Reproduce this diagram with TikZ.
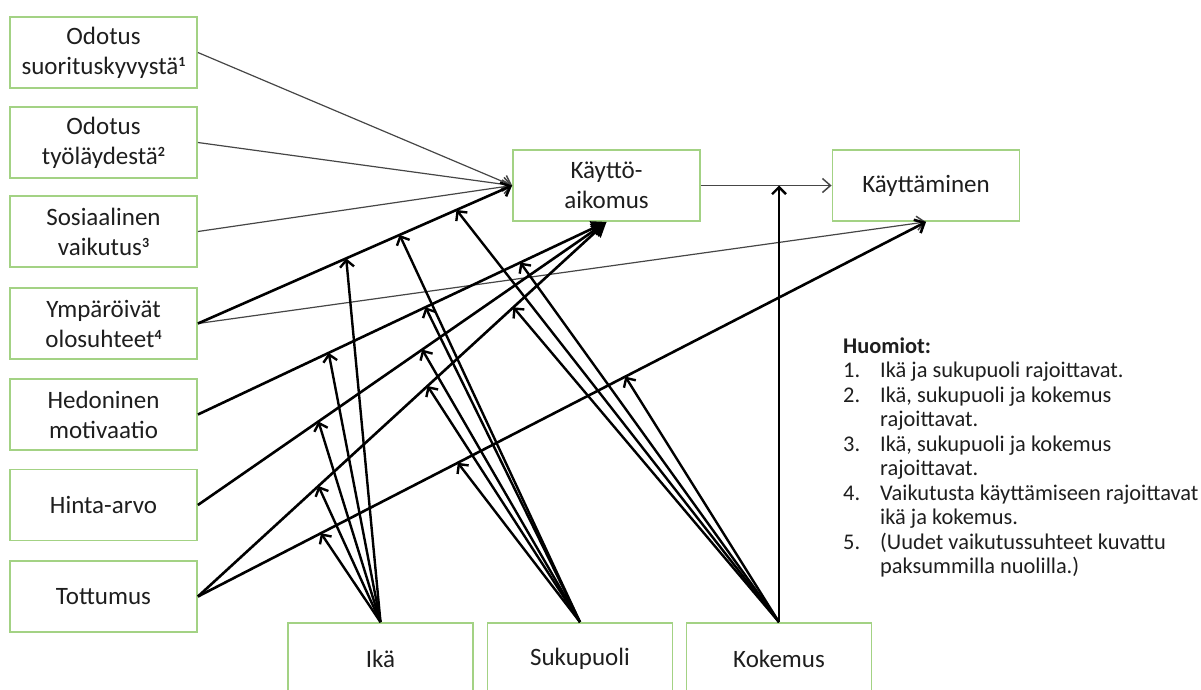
\documentclass[tikz,border=0pt]{standalone}
\usepackage{fontspec}
\setmainfont{Carlito}
\usetikzlibrary{arrows.meta,calc}
\definecolor{boxgreen}{RGB}{163,210,132}
\definecolor{txt}{RGB}{30,30,30}
\definecolor{thinc}{RGB}{70,70,70}
\newcommand\supnum[1]{\raisebox{8pt}{\fontsize{14}{14}\selectfont\bfseries #1}}
\begin{document}
\begin{tikzpicture}[x=1pt,y=-1pt,
  box/.style={draw=boxgreen,line width=1.8pt,minimum width=187pt,minimum height=71pt,inner sep=0pt,align=center,font=\fontsize{25}{30}\selectfont,text=txt},
  lowbox/.style={box,minimum width=185pt,minimum height=72pt},
  thinarr/.style={draw=thinc,line width=1.2pt,-{Straight Barb[length=8pt,width=14pt,line width=1.5pt]}},
  thickarr/.style={draw=black,line width=2.6pt,-{Straight Barb[length=8pt,width=15pt]}},
  fillarr/.style={draw=black,line width=2.6pt,-{Triangle[length=15pt,width=15pt]}},
  modarr/.style={draw=black,line width=2.4pt,-{Straight Barb[length=7pt,width=14pt]}}]
\useasboundingbox (0,0) rectangle (1201,689);
\clip (0,0) rectangle (1201,689);

% left boxes
\node[box] (o1) at (103.5,52.5) {Odotus\\suorituskyvystä\supnum{1}};
\node[box] (o2) at (103.5,142.5) {Odotus\\työläydestä\supnum{2}};
\node[box] (o3) at (103.5,231.5) {Sosiaalinen\\vaikutus\supnum{3}};
\node[box] (o4) at (103.5,323.5) {Ympäröivät\\olosuhteet\supnum{4}};
\node[box] (o5) at (103.5,414.5) {Hedoninen\\motivaatio};
\node[box] (o6) at (103.5,505) {Hinta-arvo};
\node[box] (o7) at (103.5,596.5) {Tottumus};

% outcome boxes
\node[box] (ka) at (606.5,185.5) {Käyttö-\\aikomus};
\node[box] (k) at (926,185.5) {Käyttäminen};

% moderator boxes
\node[lowbox] (ika) at (380.5,659) {Ikä};
\node[lowbox] (suk) at (580,659) {Sukupuoli};
\node[lowbox] (kok) at (779,659) {Kokemus};

% main relations
\draw[thinarr] (o1.east) -- (ka.west);
\draw[thinarr] (o2.east) -- (ka.west);
\draw[thinarr] (o3.east) -- (ka.west);
\draw[thinarr] (o4.east) -- (k.south);
\draw[thickarr] (o4.east) -- (ka.west);
\draw[fillarr] (o5.east) -- (ka.south);
\draw[fillarr] (o6.east) -- (ka.south);
\draw[fillarr] (o7.east) -- (ka.south);
\draw[thickarr] (o7.east) -- (k.south);
\draw[thinarr] (ka.east) -- (k.west);

% moderation points
\coordinate (m11) at ($(o4.east)!0.472!(ka.west)$);
\coordinate (m12) at ($(o4.east)!0.642!(ka.west)$);
\coordinate (m13) at ($(o4.east)!0.823!(ka.west)$);
\coordinate (m21) at ($(o5.east)!0.32!(ka.south)$);
\coordinate (m22) at ($(o5.east)!0.557!(ka.south)$);
\coordinate (m23) at ($(o5.east)!0.789!(ka.south)$);
\coordinate (m31) at ($(o6.east)!0.295!(ka.south)$);
\coordinate (m32) at ($(o6.east)!0.549!(ka.south)$);
\coordinate (m41) at ($(o7.east)!0.295!(ka.south)$);
\coordinate (m42) at ($(o7.east)!0.562!(ka.south)$);
\coordinate (m43) at ($(o7.east)!0.772!(ka.south)$);
\coordinate (m51) at ($(o7.east)!0.169!(k.south)$);
\coordinate (m52) at ($(o7.east)!0.357!(k.south)$);
\coordinate (m53) at ($(o7.east)!0.587!(k.south)$);
\coordinate (kv) at (kok.north |- ka.east);

% moderators
\foreach \t in {m11,m21,m31,m41,m51} \draw[modarr] (ika.north) -- (\t);
\foreach \t in {m12,m22,m32,m42,m52} \draw[modarr] (suk.north) -- (\t);
\foreach \t in {m13,m23,m43,m53,kv} \draw[modarr] (kok.north) -- (\t);

% notes
\node[anchor=base west,inner sep=0pt,font=\fontsize{22.4}{24.5}\selectfont,text=txt] (notes) at (843,353)
{\begin{tabular}[t]{@{}l@{}l@{}}
\multicolumn{2}{@{}l@{}}{\textbf{Huomiot:}}\\
\makebox[37pt][l]{1.} & Ikä ja sukupuoli rajoittavat.\\
\makebox[37pt][l]{2.} & Ikä, sukupuoli ja kokemus\\
 & rajoittavat.\\
\makebox[37pt][l]{3.} & Ikä, sukupuoli ja kokemus\\
 & rajoittavat.\\
\makebox[37pt][l]{4.} & Vaikutusta käyttämiseen rajoittavat\\
 & ikä ja kokemus.\\
\makebox[37pt][l]{5.} & (Uudet vaikutussuhteet kuvattu\\
 & paksummilla nuolilla.)
\end{tabular}};
\end{tikzpicture}
\end{document}
